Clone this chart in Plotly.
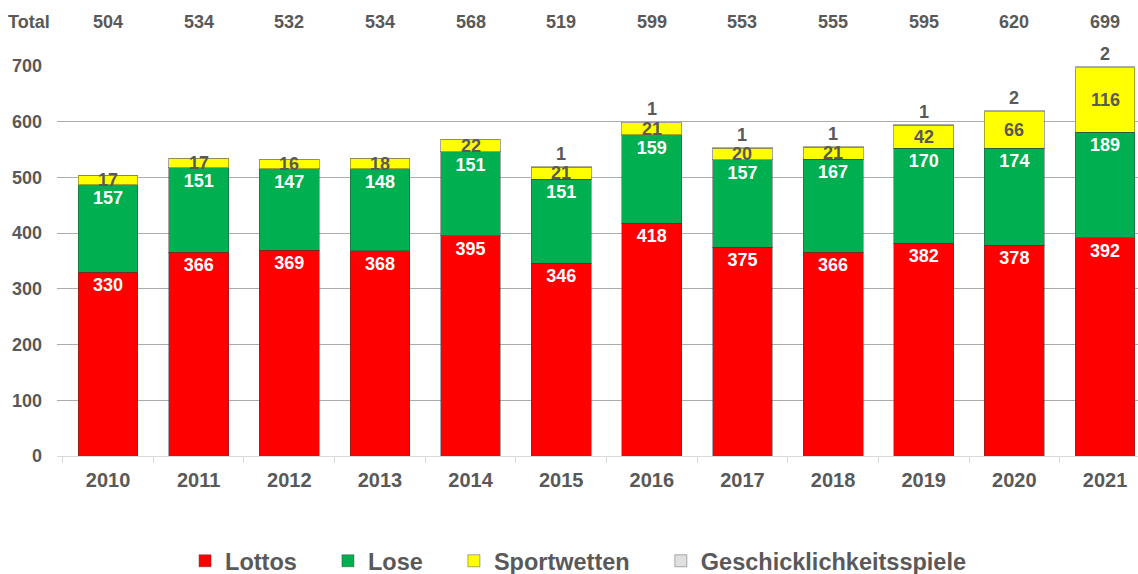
import plotly.graph_objects as go

years = ["2010", "2011", "2012", "2013", "2014", "2015", "2016", "2017", "2018", "2019", "2020", "2021"]
lottos = [330, 366, 369, 368, 395, 346, 418, 375, 366, 382, 378, 392]
lose = [157, 151, 147, 148, 151, 151, 159, 157, 167, 170, 174, 189]
sportwetten = [17, 17, 16, 18, 22, 21, 21, 20, 21, 42, 66, 116]
geschick = [0, 0, 0, 0, 0, 1, 1, 1, 1, 1, 2, 2]
totals = [504, 534, 532, 534, 568, 519, 599, 553, 555, 595, 620, 699]

FONT = "Liberation Sans, Arial, sans-serif"
GRAY = "#595959"
edge = dict(color="rgba(60,60,60,0.45)", width=1)
PAD = "\u00a0" * 4

fig = go.Figure()
fig.add_bar(x=years, y=lottos, name="Lottos" + PAD, marker=dict(color="#FF0000", line=edge),
            text=[str(v) for v in lottos], textposition="inside", insidetextanchor="end",
            textangle=0, constraintext="none",
            textfont=dict(family=FONT, size=18, color="white", weight="bold"))
fig.add_bar(x=years, y=lose, name="Lose" + PAD, marker=dict(color="#00B050", line=edge),
            text=[str(v) for v in lose], textposition="inside", insidetextanchor="end",
            textangle=0, constraintext="none",
            textfont=dict(family=FONT, size=18, color="white", weight="bold"))
fig.add_bar(x=years, y=sportwetten, name="Sportwetten" + PAD, marker=dict(color="#FFFF00", line=edge),
            textposition="none")
fig.add_bar(x=years, y=geschick, name="Geschicklichkeitsspiele",
            marker=dict(color="#E0E0E0", line=dict(color="rgba(120,120,120,0.6)", width=1)),
            textposition="none")

lbl_font = dict(family=FONT, size=18, color=GRAY, weight="bold")
annotations = []
for i, yr in enumerate(years):
    base = lottos[i] + lose[i]
    annotations.append(dict(x=i, y=base + sportwetten[i] / 2, xref="x", yref="y",
                            text=str(sportwetten[i]), showarrow=False, font=lbl_font))
    if geschick[i] > 0:
        annotations.append(dict(x=i, y=totals[i], xref="x", yref="y", yshift=13,
                                text=str(geschick[i]), showarrow=False, font=lbl_font))
    annotations.append(dict(x=i, y=1.113, xref="x", yref="paper", yanchor="middle",
                            text=str(totals[i]), showarrow=False, font=lbl_font))
annotations.append(dict(x=-0.047, y=1.113, xref="paper", yref="paper", text="Total",
                        showarrow=False, xanchor="left", yanchor="middle", font=lbl_font))

fig.update_layout(
    barmode="stack",
    bargap=0.34,
    width=1138, height=574,
    margin=dict(l=57, r=0, t=66, b=118, autoexpand=False),
    plot_bgcolor="white", paper_bgcolor="white",
    font=dict(family=FONT, color=GRAY),
    annotations=annotations,
    legend=dict(orientation="h", x=0.482, xanchor="center", xref="paper",
                y=(574 - 561) / 574, yanchor="middle", yref="container",
                font=dict(family=FONT, size=23.5, color=GRAY, weight="bold"),
                itemwidth=30, traceorder="normal"),
    xaxis=dict(type="category", range=[-0.563, 11.364], showgrid=False, showline=True,
               linecolor="#D9D9D9", automargin=False,
               ticks="outside", tickson="boundaries", ticklen=6, tickcolor="#D9D9D9",
               ticklabelstandoff=6,
               tickfont=dict(family=FONT, size=20, color=GRAY, weight="bold")),
    yaxis=dict(range=[0, 700], dtick=100, showgrid=True, gridcolor="#ABABAB", gridwidth=1,
               zeroline=False, ticks="", ticklabelstandoff=14, automargin=False,
               tickfont=dict(family=FONT, size=18, color=GRAY, weight="bold")),
)

fig.write_html("out.html", config={"displayModeBar": False},
               post_script="document.body.style.margin='0';document.body.style.overflow='hidden';")
